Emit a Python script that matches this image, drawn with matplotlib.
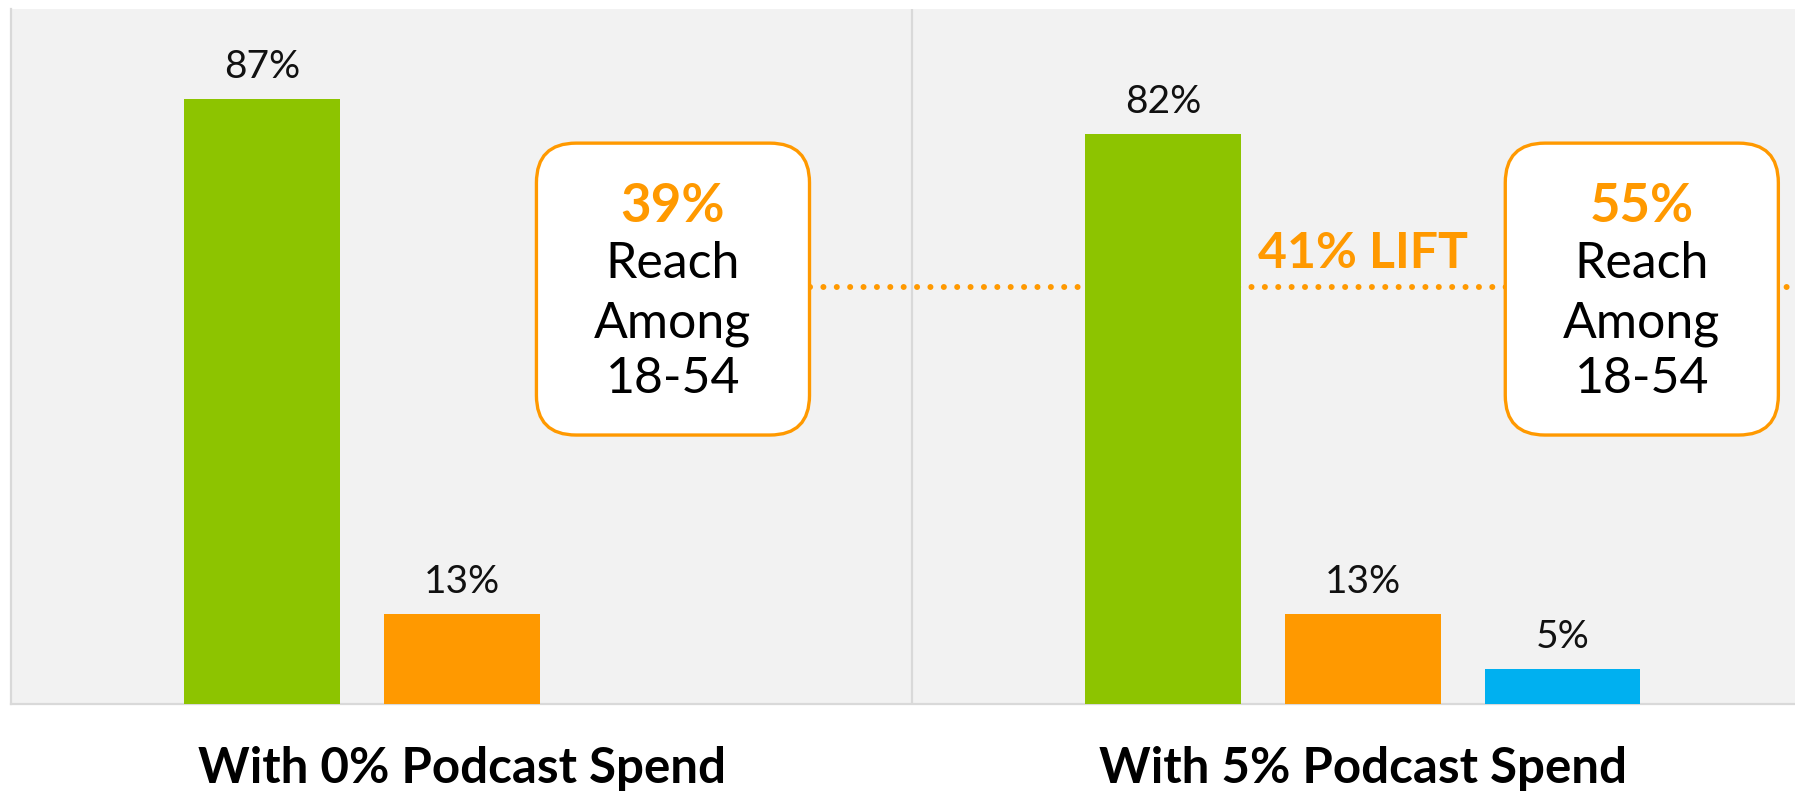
import numpy as np
import matplotlib.pyplot as plt
from matplotlib.patches import FancyBboxPatch

plt.rcParams['font.family'] = ['Lato', 'DejaVu Sans']

groups = ['With 0% Podcast Spend', 'With 5% Podcast Spend']
green_vals = [87, 82]
orange_vals = [13, 13]
blue_vals = [np.nan, 5]
reach = ['39%', '55%']
reach_lines = ['Reach', 'Among', '18-54']
lift_text = '41% LIFT'
lift_level = 60

GREEN = '#8dc400'
ORANGE = '#ff9900'
BLUE = '#00b0f0'
EDGE = '#d9d9d9'

fig = plt.figure(figsize=(17.95, 7.91), dpi=100)
ax = fig.add_axes([11 / 1795, 87 / 791, 1802.5 / 1795, 695 / 791])
ax.set_facecolor('#f2f2f2')
ax.set_xlim(-0.5, 1.5)
ax.set_ylim(0, 100)

x = np.arange(len(groups))
off = 0.2215
w = 0.173
series = [(green_vals, -off, GREEN), (orange_vals, 0, ORANGE), (blue_vals, off, BLUE)]
for vals, dx, col in series:
    for xi, v in zip(x, vals):
        if np.isnan(v):
            continue
        ax.bar(xi + dx, v, width=w, color=col, zorder=3)
        ax.text(xi + dx, v + 3, f'{v:g}%', ha='center', va='baseline',
                fontsize=28, color='#111111', zorder=4)

# divider between the two groups
ax.axvline(0.5, color=EDGE, lw=1.6, zorder=1)

# callout boxes
box_left = [0.083, 1.158]
box_w = 0.303
box_bot, box_top = 38.7, 80.7
xpx = 901.0
ypx = 6.95
for i, bl in enumerate(box_left):
    patch = FancyBboxPatch((bl, box_bot), box_w, box_top - box_bot,
                           boxstyle='round,pad=0,rounding_size=0.044',
                           mutation_aspect=xpx / ypx,
                           fc='white', ec=ORANGE, lw=2.4, zorder=5)
    ax.add_patch(patch)
    cx = bl + box_w / 2
    ax.text(cx, 69.3, reach[i], ha='center', va='baseline', fontsize=38,
            fontweight='bold', color=ORANGE, zorder=6)
    for yy, t in zip([61.3, 52.8, 44.75], reach_lines):
        ax.text(cx, yy, t, ha='center', va='baseline', fontsize=36,
                color='black', zorder=6)

# dotted lift line
ax.plot([box_left[0] + box_w, 1.5], [lift_level, lift_level], color=ORANGE,
        lw=4.3, linestyle=(0, (0.01, 2.23)), dash_capstyle='round', zorder=2)
ax.text(1.0, 62.7, lift_text, ha='center', va='baseline', fontsize=36,
        fontweight='bold', color=ORANGE, zorder=4)

for s in ['top', 'right']:
    ax.spines[s].set_visible(False)
for s in ['left', 'bottom']:
    ax.spines[s].set_color(EDGE)
    ax.spines[s].set_linewidth(1.6)
ax.set_yticks([])
ax.set_xticks([])

for xi, g in zip(x, groups):
    ax.text(xi, -11.3, g, ha='center', va='baseline', fontsize=35.5,
            fontweight='bold', color='black')

fig.savefig('out.png', dpi=100)
